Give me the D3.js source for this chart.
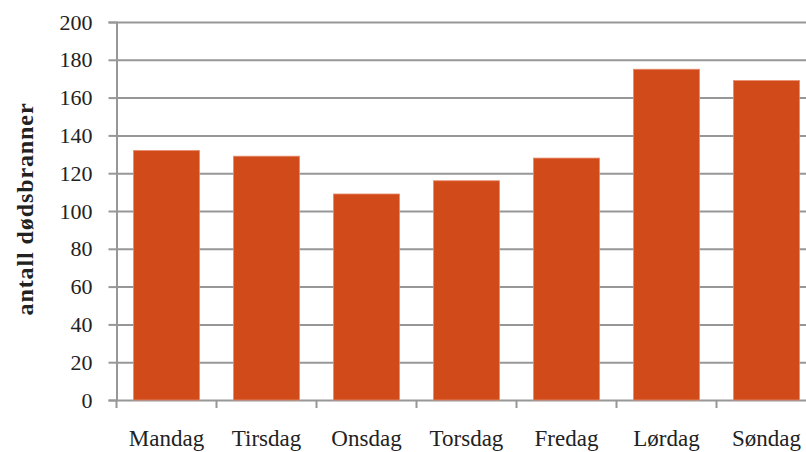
<!DOCTYPE html>
<html>
<head>
<meta charset="utf-8">
<script src="https://cdn.jsdelivr.net/npm/d3@7"></script>
<style>
  html, body { margin: 0; padding: 0; background: #fff; }
  svg { display: block; }
  text { font-family: "Liberation Serif", "Times New Roman", serif; fill: #222; }
</style>
</head>
<body>
<svg id="chart" width="806" height="452"></svg>
<script>
// Antall dødsbranner per ukedag
const days = ["Mandag", "Tirsdag", "Onsdag", "Torsdag", "Fredag", "Lørdag", "Søndag"];
const deaths = [132, 129, 109, 116, 128, 175, 169];
const yTicks = [0, 20, 40, 60, 80, 100, 120, 140, 160, 180, 200];
const yTitle = "antall dødsbranner";

const W = 806, H = 452;
const plotLeft = 116.5, plotTop = 22, plotBottom = 400;
const serif = '"Liberation Serif", "Times New Roman", serif';

const svg = d3.select("#chart");

const x = d3.scaleBand()
  .domain(days)
  .range([plotLeft, plotLeft + 700])
  .paddingInner(0.34)
  .paddingOuter(0.17);

const y = d3.scaleLinear().domain([0, 200]).range([plotBottom, plotTop]);

const gridColor = "#979797";

// horizontal gridlines with short ticks left of the axis
const yAxis = d3.axisLeft(y).tickValues(yTicks).tickSize(8).tickPadding(16);
const gy = svg.append("g").attr("transform", `translate(${plotLeft},0)`).call(yAxis);
gy.attr("font-family", null).attr("font-size", null);
gy.select(".domain").attr("stroke", gridColor).attr("stroke-width", 2);
gy.selectAll(".tick line").attr("stroke", gridColor).attr("stroke-width", 2);
gy.selectAll(".tick text")
  .style("font-family", serif)
  .style("font-size", "22px")
  .attr("fill", "#222");
gy.selectAll(".tick").append("line")
  .attr("x1", 0).attr("x2", W - plotLeft)
  .attr("stroke", gridColor).attr("stroke-width", 2);

// bars
svg.append("g").selectAll("rect")
  .data(days.map((d, i) => ({ day: d, v: deaths[i] })))
  .join("rect")
  .attr("x", d => x(d.day))
  .attr("width", x.bandwidth())
  .attr("y", d => y(d.v))
  .attr("height", d => y(0) - y(d.v))
  .attr("fill", "#d14b1a")
  .attr("stroke", "#e88a6c")
  .attr("stroke-width", 0.8);

// category axis: ticks between the bands
const step = x.step();
const bounds = d3.range(days.length + 1).map(i => plotLeft + i * step);
svg.append("g").selectAll("line")
  .data(bounds)
  .join("line")
  .attr("x1", d => d).attr("x2", d => d)
  .attr("y1", plotBottom).attr("y2", plotBottom + 8)
  .attr("stroke", gridColor).attr("stroke-width", 2);

svg.append("g").selectAll("text")
  .data(days)
  .join("text")
  .attr("x", d => x(d) + x.bandwidth() / 2)
  .attr("y", 446)
  .attr("text-anchor", "middle")
  .style("font-size", "23px")
  .text(d => d);

// y-axis title
svg.append("text")
  .attr("transform", "translate(33,209) rotate(-90)")
  .attr("text-anchor", "middle")
  .style("font-size", "24px")
  .style("letter-spacing", "0.9px")
  .attr("font-weight", "bold")
  .text(yTitle);
</script>
</body>
</html>
